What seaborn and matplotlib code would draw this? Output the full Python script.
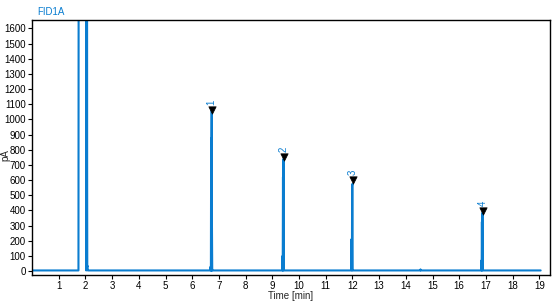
import numpy as np
import pandas as pd
import seaborn as sns
import matplotlib
matplotlib.use("Agg")
import matplotlib.pyplot as plt

# Chromatogram trace (time in min, signal in pA)
trace_time = [0.00, 1.74, 1.75, 1.76, 2.02, 2.03, 2.04, 2.045, 2.05, 2.055, 2.06, 2.065,
              2.07, 2.08, 2.09, 2.10, 6.68, 6.69, 6.70, 6.71, 6.72, 6.725, 6.73,
              6.735, 6.74, 6.75, 6.76, 6.77, 9.37, 9.38, 9.39, 9.40, 9.41, 9.42, 9.43,
              9.44, 9.45, 9.46, 11.95, 11.96, 11.97, 11.98, 11.99, 12.00, 12.01, 12.02,
              12.03, 14.54, 14.55, 14.56, 16.82, 16.83, 16.84, 16.85, 16.86, 16.87,
              16.88, 16.89, 16.90, 16.91, 19.05]
trace_signal = [5, 5, 3000, 3000, 3000, 5, 3000, 684, 3000, 684, 3000, 684,
                30, 35, 5, 5, 5, 30, 5, 874, 5, 874, 1060,
                5, 284, 5, 5, 5, 5, 100, 5, 620, 5, 740, 20,
                5, 5, 5, 5, 210, 120, 5, 560, 575, 5, 5,
                5, 5, 12, 5, 5, 70, 5, 325, 5, 385, 60,
                5, 5, 5, 5]

peak_labels = ["1", "2", "3", "4"]
peak_times = [6.73, 9.42, 12.02, 16.88]
peak_marks = [1065, 755, 603, 398]

df = pd.DataFrame({"time": trace_time, "signal": trace_signal})
pk = pd.DataFrame({"time": peak_times, "signal": peak_marks, "label": peak_labels})

sns.set_theme(style="ticks")
plt.rcParams["font.family"] = ["Liberation Sans", "DejaVu Sans"]

blue = "#0a7dd0"
fig = plt.figure(figsize=(5.58, 3.03), dpi=100)
ax = fig.add_axes([32 / 558, 28 / 303, 518 / 558, 255 / 303])

sns.lineplot(data=df, x="time", y="signal", ax=ax, estimator=None, sort=False,
             color=blue, lw=1.5)
sns.scatterplot(data=pk, x="time", y="signal", ax=ax, marker="v", color="black",
                s=28, edgecolor="black", linewidth=0.5, zorder=5)
for t, v, lab in zip(peak_times, peak_marks, peak_labels):
    ax.text(t, v + 30, lab, rotation=90, ha="center", va="bottom",
            color=blue, fontsize=7)

ax.set_xlim(0, 19.4)
ax.set_ylim(-25, 1655)
ax.set_xticks(range(1, 20))
ax.set_yticks(range(0, 1601, 100))
ax.tick_params(labelsize=7, length=3, width=0.8, pad=1.5, colors="black")
for s in ax.spines.values():
    s.set_visible(True)
    s.set_linewidth(1.0)
    s.set_color("black")
ax.set_xlabel("Time [min]", fontsize=7, labelpad=0)
ax.set_ylabel("pA", fontsize=7)
ax.yaxis.set_label_coords(-0.042, 0.47)
fig.text(37 / 558, 1 - 12 / 303, "FID1A", color=blue, fontsize=7, va="center")

fig.savefig("out.png", dpi=100)
